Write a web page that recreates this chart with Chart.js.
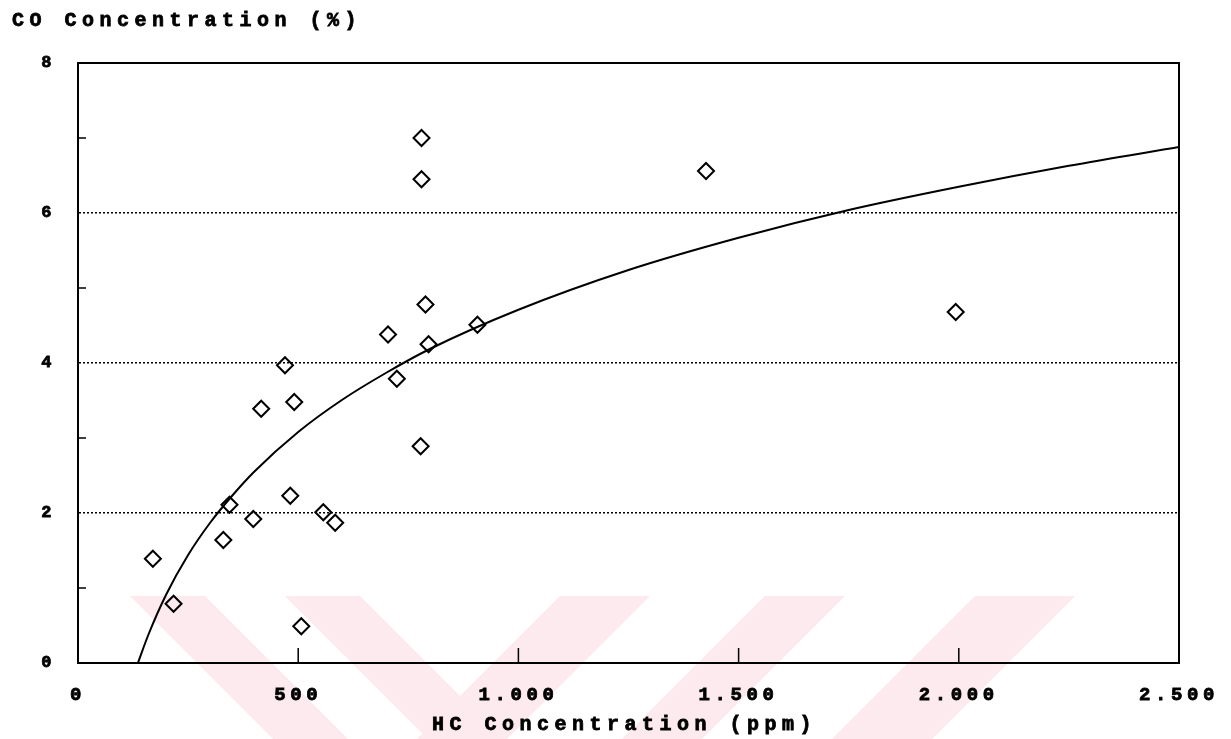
<!DOCTYPE html>
<html>
<head>
<meta charset="utf-8">
<script src="https://cdn.jsdelivr.net/npm/chart.js@4.4.1/dist/chart.umd.min.js"></script>
<style>
  html, body { margin: 0; padding: 0; background: #fff; }
  #wrap { width: 1231px; height: 739px; position: relative; }
</style>
</head>
<body>
<div id="wrap"><canvas id="myChart"></canvas></div>
<script>
// measured points: HC (ppm) vs CO (%)
const hcValues = [170, 217, 330, 344, 398, 416, 470, 482, 491, 507, 557, 584, 704, 724, 778, 780, 780, 789, 796, 907, 1426, 1993];
const coValues = [1.39, 0.79, 1.64, 2.11, 1.92, 3.39, 3.97, 2.23, 3.48, 0.49, 2.01, 1.87, 4.38, 3.79, 2.89, 6.45, 7.0, 4.78, 4.25, 4.51, 6.56, 4.68];

// fitted curve
const trendX = [136, 160, 200, 250, 300, 350, 400, 500, 600, 700, 800, 1000, 1250, 1500, 1750, 2000, 2250, 2500];
const trendY = [0, 0.38, 0.91, 1.44, 1.87, 2.23, 2.55, 3.08, 3.51, 3.87, 4.19, 4.71, 5.24, 5.67, 6.04, 6.35, 6.63, 6.88];

const xTicks = [0, 500, 1000, 1500, 2000, 2500];
const yTicks = [0, 2, 4, 6, 8];
const yGridValues = [2, 4, 6];
const yMinorTicks = [1, 3, 5, 7];
const xInnerTicks = [500, 1000, 1500, 2000];

const yTitle = "CO Concentration (%)";
const xTitle = "HC Concentration (ppm)";

const FONT = '"Liberation Mono", "Courier New", monospace';

const scatterPoints = hcValues.map((x, i) => ({ x: x, y: coValues[i] }));
const trendPoints = trendX.map((x, i) => ({ x: x, y: trendY[i] }));

function formatThousands(v) {
  return String(v).replace(/\B(?=(\d{3})+(?!\d))/g, ".");
}

// faint watermark stripes along the bottom of the scan
const watermark = {
  id: "watermark",
  beforeDraw(chart) {
    const ctx = chart.ctx;
    const y0 = 596, y1 = 739, d = y1 - y0;
    ctx.save();
    ctx.fillStyle = "#fdeaee";
    const back = [[130, 205], [285, 360]];
    const fwd = [[560, 650], [765, 845], [975, 1075]];
    back.forEach(([a, b]) => {
      ctx.beginPath();
      ctx.moveTo(a, y0); ctx.lineTo(b, y0);
      ctx.lineTo(b + d, y1); ctx.lineTo(a + d, y1);
      ctx.closePath(); ctx.fill();
    });
    fwd.forEach(([a, b]) => {
      ctx.beginPath();
      ctx.moveTo(a, y0); ctx.lineTo(b, y0);
      ctx.lineTo(b - d, y1); ctx.lineTo(a - d, y1);
      ctx.closePath(); ctx.fill();
    });
    ctx.restore();
    ctx.letterSpacing = "4.6px";
  }
};

// box, inner tick marks and spaced-out titles
const frame = {
  id: "frame",
  afterDraw(chart) {
    const ctx = chart.ctx;
    const a = chart.chartArea;
    const xs = chart.scales.x, ys = chart.scales.y;
    ctx.save();
    ctx.letterSpacing = "0px";
    ctx.strokeStyle = "#000";
    ctx.lineWidth = 2;
    ctx.strokeRect(a.left, a.top, a.right - a.left, a.bottom - a.top);
    ctx.lineWidth = 1.5;
    ctx.beginPath();
    yMinorTicks.forEach(v => {
      const py = ys.getPixelForValue(v);
      ctx.moveTo(a.left, py); ctx.lineTo(a.left + 8, py);
    });
    xInnerTicks.forEach(v => {
      const px = xs.getPixelForValue(v);
      ctx.moveTo(px, a.bottom); ctx.lineTo(px, a.bottom - 15);
    });
    ctx.stroke();

    ctx.fillStyle = "#000";
    ctx.strokeStyle = "#000";
    ctx.lineWidth = 0.8;
    ctx.font = "bold 20px " + FONT;
    ctx.letterSpacing = "5.5px";
    ctx.textBaseline = "middle";
    ctx.textAlign = "left";
    ctx.fillText(yTitle, 12, 21);
    ctx.strokeText(yTitle, 12, 21);
    ctx.fillText(xTitle, 432, 725);
    ctx.strokeText(xTitle, 432, 725);
    ctx.restore();
    ctx.letterSpacing = "0px";
  }
};

const ctx = document.getElementById("myChart").getContext("2d");

const myChart = new Chart(ctx, {
  type: "scatter",
  data: {
    datasets: [
      {
        label: "Measured",
        data: scatterPoints,
        pointStyle: "rectRot",
        pointRadius: 8,
        pointBorderWidth: 2,
        pointBorderColor: "#000",
        pointBackgroundColor: "rgba(255,255,255,0)",
        showLine: false,
        order: 1,
      },
      {
        label: "Fit",
        data: trendPoints,
        showLine: true,
        borderColor: "#000",
        borderWidth: 2,
        pointRadius: 0,
        cubicInterpolationMode: "monotone",
        order: 2,
      },
    ],
  },
  options: {
    responsive: true,
    maintainAspectRatio: false,
    animation: false,
    events: [],
    layout: {
      padding: { top: 63, right: 52, left: 0, bottom: 0 },
    },
    scales: {
      x: {
        type: "linear",
        min: 0,
        max: 2500,
        afterFit(scale) { scale.height = 76; },
        afterBuildTicks(scale) { scale.ticks = xTicks.map(v => ({ value: v })); },
        grid: { display: false, drawTicks: false },
        border: { display: true, color: "#000", width: 2 },
        ticks: {
          padding: 21,
          maxRotation: 0,
          autoSkip: false,
          color: "#000",
          textStrokeColor: "#000",
          textStrokeWidth: 0.8,
          font: { family: FONT, size: 19, weight: "bold" },
          callback: v => formatThousands(v),
        },
      },
      y: {
        type: "linear",
        min: 0,
        max: 8,
        afterFit(scale) { scale.width = 78; },
        afterBuildTicks(scale) { scale.ticks = yTicks.map(v => ({ value: v })); },
        grid: {
          drawTicks: false,
          lineWidth: 1.5,
          color: c => (c.tick && yGridValues.includes(c.tick.value) ? "#000" : "rgba(0,0,0,0)"),
        },
        border: { display: true, color: "#000", width: 2, dash: [2, 2] },
        ticks: {
          padding: 22,
          color: "#000",
          textStrokeColor: "#000",
          textStrokeWidth: 0.8,
          font: { family: FONT, size: 17, weight: "bold" },
        },
      },
    },
    plugins: {
      legend: { display: false },
      title: { display: false },
      tooltip: { enabled: false },
    },
  },
  plugins: [watermark, frame],
});
</script>
</body>
</html>
